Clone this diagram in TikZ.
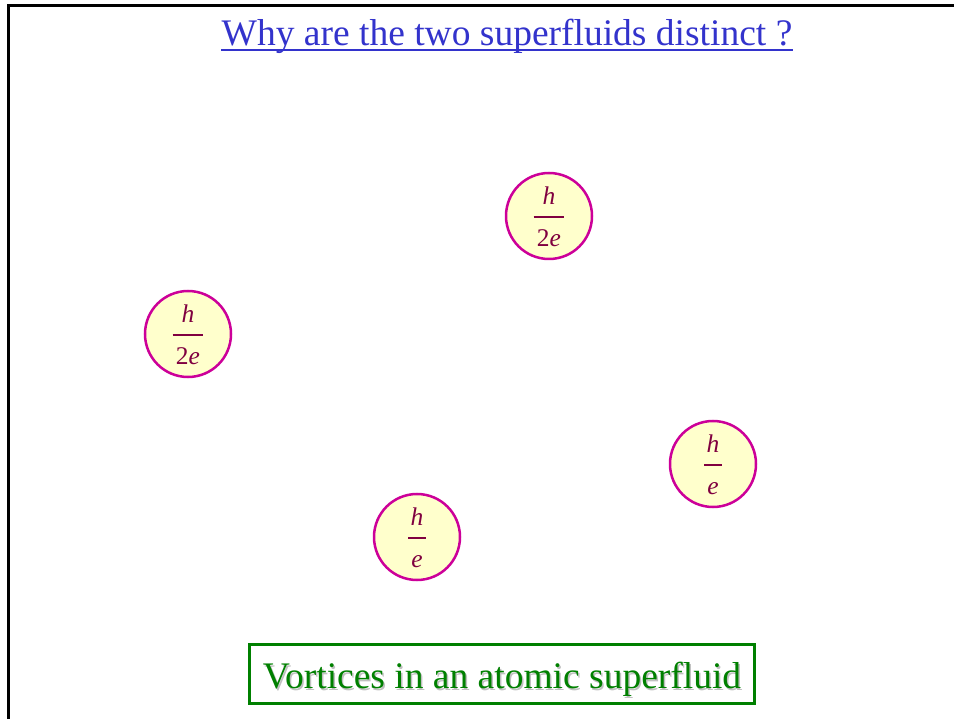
\documentclass[tikz,border=0pt]{standalone}
\usepackage{fontspec}
\setmainfont{Liberation Serif}
\usetikzlibrary{calc}
\definecolor{titleblue}{HTML}{3333CC}
\definecolor{vfill}{HTML}{FFFFCC}
\definecolor{vline}{HTML}{CC0099}
\definecolor{vtext}{HTML}{800040}
\definecolor{capgreen}{HTML}{008000}
\definecolor{shadowgray}{HTML}{C0C0C0}
\tikzset{
  vortex/.style={circle, draw=vline, fill=vfill, line width=2.5pt, minimum size=86pt, inner sep=0pt, text=vtext, font=\fontsize{25.5}{30}\selectfont},
  frame/.style={line width=3pt, black},
  bigtext/.style={font=\fontsize{37.5}{44}\selectfont, inner sep=0pt},
}
\newsavebox{\denombox}
\newcommand{\vfrac}[2]{{\renewcommand{\arraystretch}{0}%
  \sbox{\denombox}{#2}%
  \begin{tabular}{@{}c@{}}
  \rule[-11.5pt]{0pt}{34pt}\textit{#1}\\
  \rule[-12.3pt]{0pt}{13.5pt}\rule{\dimexpr\wd\denombox+6.5pt\relax}{1.2pt}\\
  \rule[-2.75pt]{0pt}{19.75pt}\usebox{\denombox}
  \end{tabular}}}
\begin{document}
\begin{tikzpicture}[x=1pt,y=-1pt]
\useasboundingbox (0,0) rectangle (954,719);
\coordinate (bl) at (8.5,720);
\coordinate (tl) at (8.5,6);
\coordinate (tr) at (955,6);
\draw[frame] (bl) -- (tl) -- (tr);
% title
\node[bigtext, text=titleblue, anchor=base] (title) at (507,46) {Why are the two superfluids distinct ?};
\draw[titleblue, line width=2pt] ($(title.base west)+(0,4.5)$) -- ($(title.base east)+(0,4.5)$);
% vortices
\node[vortex] (v1) at (549,216) {\vfrac{h}{2\textit{e}}};
\node[vortex] (v2) at (188,334) {\vfrac{h}{2\textit{e}}};
\node[vortex] (v3) at (713,464) {\vfrac{h}{\textit{e}}};
\node[vortex] (v4) at (417,537) {\vfrac{h}{\textit{e}}};
% caption
\node[draw=capgreen, line width=3pt, minimum width=505pt, minimum height=59pt, inner sep=0pt] (capbox) at (501.5,673.5) {};
\node[bigtext, text=shadowgray, anchor=base] (capshadow) at (503.5,690) {Vortices in an atomic superfluid};
\node[bigtext, text=capgreen, anchor=base] (cap) at (502,688) {Vortices in an atomic superfluid};
\end{tikzpicture}
\end{document}
